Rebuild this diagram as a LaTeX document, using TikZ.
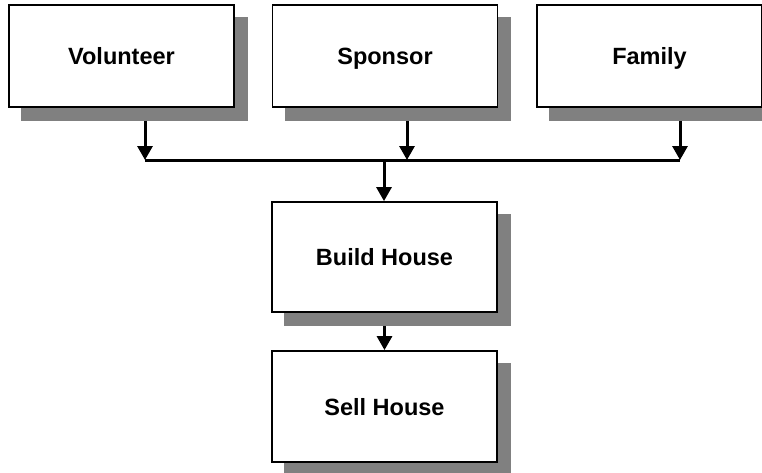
\documentclass[tikz,border=0pt]{standalone}
\usepackage{fontspec}
\setmainfont{Liberation Sans}
\usetikzlibrary{arrows.meta,backgrounds}
\definecolor{shadegray}{RGB}{128,128,128}
\begin{document}
\begin{tikzpicture}[x=1pt,y=-1pt,
  box/.style={draw=black, line width=1.8pt, fill=white, inner sep=0pt,
    minimum width=225pt, minimum height=102pt,
    text height=17pt, text depth=0pt,
    font=\fontsize{23.5}{28}\selectfont\bfseries},
  shade/.style={fill=shadegray},
  flow/.style={line width=3pt, -{Triangle[length=14pt,width=15pt]}},
  bus/.style={line width=3pt}]
\useasboundingbox (0,0) rectangle (762,472);

% process boxes
\node[box] (vol) at (121.5,56) {Volunteer};
\node[box] (spo) at (385,56) {Sponsor};
\node[box] (fam) at (649.5,56) {Family};
\node[box, minimum height=110pt] (bld) at (384.5,257) {Build House};
\node[box, minimum height=111pt] (sel) at (384.5,406.5) {Sell House};

% drop shadows behind each box
\begin{scope}[on background layer]
  \foreach \n in {vol,spo,fam,bld,sel}
    \fill[shade] ([xshift=13pt,yshift=-13pt]\n.south west) rectangle ([xshift=13pt,yshift=-13pt]\n.north east);
\end{scope}

% junction points on the collecting bus
\coordinate (j1) at (145,160);
\coordinate (j2) at (407,160);
\coordinate (j3) at (680,160);
\coordinate (jm) at (384,160);

\draw[bus] (j1) -- (j3);
\draw[flow] (j1 |- vol.south) ++(0,13) -- (j1);
\draw[flow] (j2 |- spo.south) ++(0,13) -- (j2);
\draw[flow] (j3 |- fam.south) ++(0,13) -- (j3);
\draw[flow] (jm) -- (jm |- bld.north);
\draw[flow] (bld.south) ++(0,13) -- (sel.north);
\end{tikzpicture}
\end{document}
